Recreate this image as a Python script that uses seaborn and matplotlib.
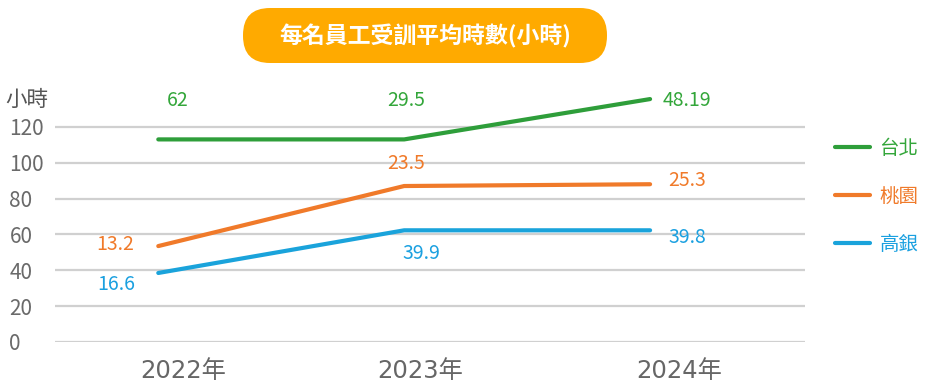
import numpy as np
import pandas as pd
import matplotlib
matplotlib.use("Agg")
import matplotlib.pyplot as plt
import matplotlib.patches as mpatches
import matplotlib.transforms as mtransforms
import seaborn as sns

################ DATA ################
years = ["2022年", "2023年", "2024年"]
regions = ["台北", "桃園", "高銀"]
# line heights as drawn on the y axis (hours)
taipei_line = [113, 113, 135.5]
taoyuan_line = [53.5, 87, 88]
kaohsiung_line = [38.5, 62.3, 62.3]
# value labels printed next to each point
taipei_labels = ["62", "29.5", "48.19"]
taoyuan_labels = ["13.2", "23.5", "25.3"]
kaohsiung_labels = ["16.6", "39.9", "39.8"]

colors = {"台北": "#2E9E3A", "桃園": "#F07A2A", "高銀": "#1AA3DB"}
text_colors = {"台北": "#33A63A", "桃園": "#F07A2A", "高銀": "#1AA0E0"}

df = pd.DataFrame({
    "year": list(range(3)) * 3,
    "region": np.repeat(regions, 3),
    "hours": taipei_line + taoyuan_line + kaohsiung_line,
})

################ STYLE ################
sns.set_style("white")
plt.rcParams['font.family'] = ['Noto Sans CJK TC', 'DejaVu Sans']

fig = plt.figure(figsize=(9.28, 3.86), dpi=100)
ax = fig.add_axes([55 / 928, 44 / 386, 750 / 928, 251 / 386])

sns.lineplot(data=df, x="year", y="hours", hue="region", palette=colors,
             linewidth=3, ax=ax, legend=True, clip_on=False)

ax.set_xlim(-0.42, 2.63)
ax.set_ylim(0, 140)
ax.set_yticks(range(0, 121, 20))
ax.yaxis.grid(True, color="#D0D0D0", linewidth=1.6)
ax.set_axisbelow(True)
for s in ax.spines.values():
    s.set_visible(False)
ax.tick_params(axis="y", length=0, labelsize=15, labelcolor="#6A6A6A", pad=2)
for lbl in ax.get_yticklabels():
    lbl.set_horizontalalignment("left")
    lbl.set_x(-0.057)
ax.set_xticks([0.1, 1.065, 2.12])
ax.set_xticklabels(years, fontsize=17.5, color="#666666",
                   family=['DejaVu Sans', 'Noto Sans CJK TC'])
ax.tick_params(axis="x", length=0, pad=12)
ax.set_xlabel("")
ax.set_ylabel("")

fig.text(5 / 928, 1 - 100 / 386, "小時", fontsize=15.5, color="#555555", va="center", ha="left")

################ VALUE LABELS ################
label_sets = {"台北": taipei_labels, "桃園": taoyuan_labels, "高銀": kaohsiung_labels}
line_sets = {"台北": taipei_line, "桃園": taoyuan_line, "高銀": kaohsiung_line}
offsets = {
    "台北": [(19, 39, "center"), (2, 39, "center"), (13, -1, "left")],
    "桃園": [(-43, 1.5, "center"), (1.5, 23, "center"), (18, 4, "left")],
    "高銀": [(-42.5, -11.5, "center"), (17, -23, "center"), (18, -7, "left")],
}
for r in regions:
    for i, (txt, val) in enumerate(zip(label_sets[r], line_sets[r])):
        dx, dy, ha = offsets[r][i]
        ax.annotate(txt, (i, val), xytext=(dx, dy), textcoords="offset pixels",
                    ha=ha, va="center", fontsize=14, color=text_colors[r],
                    annotation_clip=False)

################ LEGEND ################
leg = ax.legend(loc="upper left", bbox_to_anchor=(1.0163, 0.884), frameon=False,
                handlelength=1.8, handletextpad=0.5, labelspacing=1.4,
                fontsize=14, title=None)
for t in leg.get_texts():
    t.set_color(text_colors[t.get_text()])

################ TITLE PILL ################
pill = mpatches.FancyBboxPatch((243, 386 - 63), 364, 55,
                               boxstyle="round,pad=0,rounding_size=27",
                               facecolor="#FFAA00", edgecolor="none",
                               transform=mtransforms.IdentityTransform())
fig.patches.append(pill)
fig.text(425 / 928, 1 - 36 / 386, "每名員工受訓平均時數(小時)", fontsize=16.5,
         fontweight="bold", color="white", ha="center", va="center")

fig.savefig("out.png", dpi=100)
